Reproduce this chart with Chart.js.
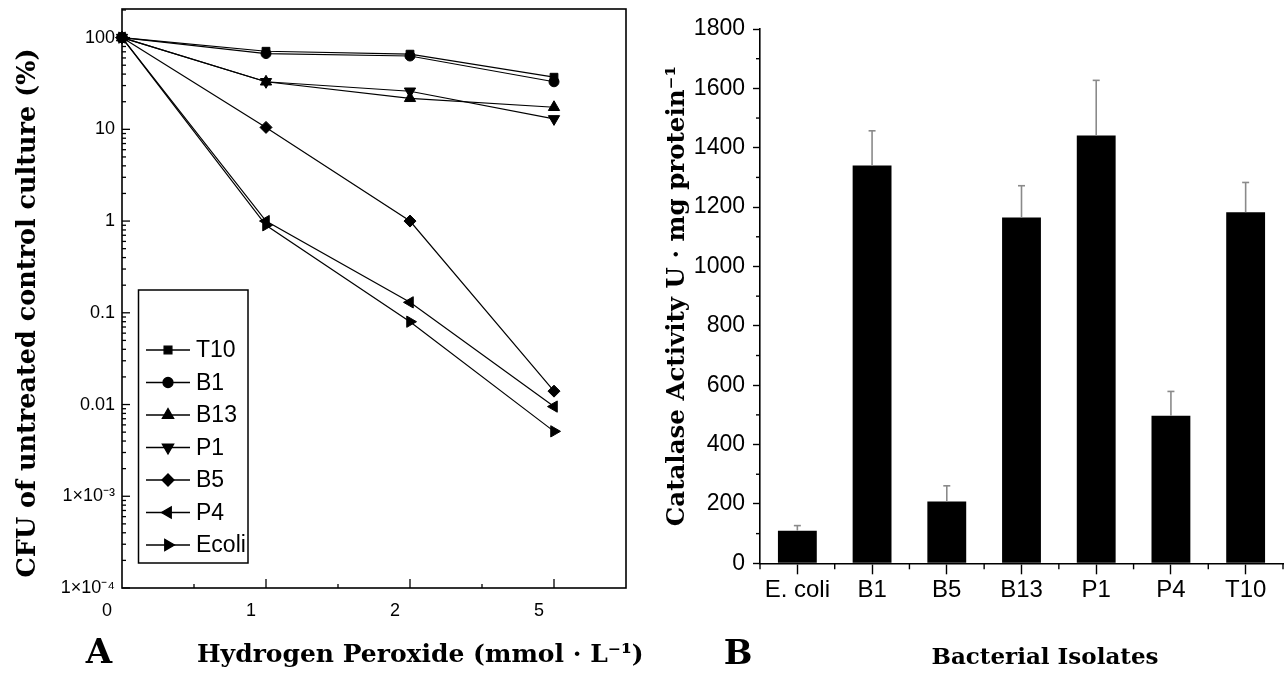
<!DOCTYPE html>
<html><head><meta charset="utf-8">
<script src="https://cdn.jsdelivr.net/npm/chart.js@4.4.1/dist/chart.umd.min.js"></script>
<style>
html,body{margin:0;padding:0;background:#fff;width:1285px;height:675px;overflow:hidden;}
#wa{position:absolute;left:0;top:0;width:700px;height:675px;}
#wb{position:absolute;left:640px;top:0;width:645px;height:675px;}
canvas{display:block;}
</style></head><body>
<div id="wa"><canvas id="ca" width="700" height="675"></canvas></div>
<div id="wb"><canvas id="cb" width="645" height="675"></canvas></div>
<script>
// ---------- DATA ----------
const doseLabels = ['0', '1', '2', '5'];          // H2O2 (mmol/L), evenly spaced categories
const dosePos = [0, 1, 2, 3];
const survT10   = [100, 71, 66, 37];
const survB1    = [100, 67, 63, 33];
const survB13   = [100, 33, 21.8, 17.4];
const survP1    = [100, 33, 26, 13];
const survB5    = [100, 10.5, 1.0, 0.014];
const survP4    = [100, 1.0, 0.13, 0.0095];
const survEcoli = [100, 0.9, 0.08, 0.0051];
const strainNames = ['T10', 'B1', 'B13', 'P1', 'B5', 'P4', 'Ecoli'];
const logTickValues = [1e-4, 1e-3, 0.01, 0.1, 1, 10, 100];
const logTickLabels = ['1\u00d710\u207b\u2074', '1\u00d710\u207b\u00b3', '0.01', '0.1', '1', '10', '100'];

const isolates = ['E. coli', 'B1', 'B5', 'B13', 'P1', 'P4', 'T10'];
const catalase = [110, 1340, 208, 1165, 1441, 497, 1183];
const catalaseErr = [17, 117, 53, 107, 186, 82, 100];

// ---------- STYLE ----------
const SANS = "'Liberation Sans',Arial,sans-serif";
const SERIF = "'DejaVu Serif',serif";
const markerStyle = {
  T10:   {pointStyle: 'rect', radius: 5.5, rotation: 0},
  B1:    {pointStyle: 'circle', radius: 5, rotation: 0},
  B13:   {pointStyle: 'triangle', radius: 6.5, rotation: 0},
  P1:    {pointStyle: 'triangle', radius: 6.5, rotation: 180},
  B5:    {pointStyle: 'rectRot', radius: 6, rotation: 0},
  P4:    {pointStyle: 'triangle', radius: 6.5, rotation: 270},
  Ecoli: {pointStyle: 'triangle', radius: 6.5, rotation: 90}
};
const survSeries = [survT10, survB1, survB13, survP1, survB5, survP4, survEcoli];

function line(ctx, x1, y1, x2, y2) { ctx.beginPath(); ctx.moveTo(x1, y1); ctx.lineTo(x2, y2); ctx.stroke(); }

// ---------- CHART A ----------
const plotA = {
  id: 'plotA',
  beforeDatasetsDraw(chart) {
    const {ctx, chartArea: a, scales: {x, y}} = chart;
    ctx.save();
    ctx.strokeStyle = '#000';
    ctx.lineWidth = 1.6;
    ctx.strokeRect(a.left, a.top, a.right - a.left, a.bottom - a.top);
    ctx.lineWidth = 1.3;
    for (let v = 0.5; v < x.max; v += 0.5) {
      const px = x.getPixelForValue(v);
      const len = Number.isInteger(v) ? 9 : 4;
      line(ctx, px, a.bottom, px, a.bottom - len);
    }
    for (let e = -4; e <= 2; e++) {
      for (let m = 1; m <= 9; m++) {
        const v = m * Math.pow(10, e);
        if (v > y.max) break;
        const py = y.getPixelForValue(v);
        line(ctx, a.left, py, a.left + (m === 1 ? 8 : 4), py);
      }
    }
    ctx.restore();
  },
  afterDraw(chart) {
    const {ctx} = chart;
    ctx.save();
    // legend box
    ctx.strokeStyle = '#000'; ctx.lineWidth = 1.5;
    ctx.strokeRect(138.5, 290, 109.5, 273);
    ctx.font = '23px ' + SANS;
    ctx.textBaseline = 'middle'; ctx.textAlign = 'left';
    chart.data.datasets.forEach((ds, i) => {
      const yy = 350 + i * 32.5;
      ctx.strokeStyle = '#000'; ctx.lineWidth = 1.3;
      line(ctx, 146, yy, 190, yy);
      ctx.fillStyle = '#000';
      Chart.helpers.drawPoint(ctx, {pointStyle: ds.pointStyle, radius: ds.pointRadius, rotation: ds.pointRotation, borderWidth: 1}, 168, yy);
      ctx.fillStyle = '#000';
      ctx.fillText(ds.label, 196, yy + 1);
    });
    // titles
    ctx.fillStyle = '#000';
    ctx.font = 'bold 34px ' + SERIF;
    ctx.textAlign = 'center'; ctx.textBaseline = 'alphabetic';
    ctx.fillText('A', 99, 663);
    ctx.font = 'bold 25px ' + SERIF;
    ctx.textAlign = 'left';
    ctx.fillText('Hydrogen Peroxide (mmol \u00b7 L\u207b\u00b9)', 197, 662);
    ctx.translate(28, 313);
    ctx.rotate(-Math.PI / 2);
    ctx.textAlign = 'center'; ctx.textBaseline = 'middle';
    ctx.font = 'bold 25.5px ' + SERIF;
    ctx.fillText('CFU of untreated control culture (%)', 0, 0);
    ctx.restore();
  }
};

new Chart(document.getElementById('ca'), {
  type: 'line',
  data: {
    datasets: strainNames.map((name, i) => ({
      label: name,
      data: dosePos.map((p, j) => ({x: p, y: survSeries[i][j]})),
      borderColor: '#000',
      backgroundColor: '#000',
      borderWidth: 1.2,
      pointStyle: markerStyle[name].pointStyle,
      pointRadius: markerStyle[name].radius,
      pointRotation: markerStyle[name].rotation,
      pointBorderWidth: 1,
      pointBackgroundColor: '#000',
      pointBorderColor: '#000',
      clip: false,
      tension: 0
    }))
  },
  options: {
    responsive: false,
    animation: false,
    events: [],
    layout: {padding: {left: 0, top: 9, right: 74, bottom: 0}},
    plugins: {legend: {display: false}, tooltip: {enabled: false}},
    scales: {
      x: {
        type: 'linear', min: 0, max: 3.5,
        afterBuildTicks: s => { s.ticks = dosePos.map(v => ({value: v})); },
        afterFit: s => { s.height = 87; s.paddingLeft = 0; s.paddingRight = 0; },
        grid: {display: false, drawTicks: false},
        border: {display: false},
        ticks: {
          callback: (v) => doseLabels[dosePos.indexOf(v)],
          font: {family: SANS, size: 18}, color: '#000', padding: 12, labelOffset: -15,
          maxRotation: 0, autoSkip: false
        }
      },
      y: {
        type: 'logarithmic', min: 1e-4, max: 205,
        afterBuildTicks: s => { s.ticks = logTickValues.map(v => ({value: v})); },
        afterFit: s => { s.width = 122; s.paddingTop = 0; s.paddingBottom = 0; },
        grid: {display: false, drawTicks: false},
        border: {display: false},
        ticks: {
          callback: (v) => logTickLabels[logTickValues.indexOf(v)],
          font: {family: SANS, size: 18}, color: '#000', padding: 7, autoSkip: false
        }
      }
    }
  },
  plugins: [plotA]
});

// ---------- CHART B ----------
const plotB = {
  id: 'plotB',
  afterDatasetsDraw(chart) {
    const {ctx, chartArea: a, scales: {x, y}} = chart;
    const ds = chart.data.datasets[0];
    ctx.save();
    // error bars
    ctx.strokeStyle = '#8a8a8a'; ctx.lineWidth = 1.6;
    ds.data.forEach((v, i) => {
      const px = x.getPixelForValue(i);
      const yb = y.getPixelForValue(v);
      const yt = y.getPixelForValue(v + ds.errors[i]);
      line(ctx, px, yb, px, yt);
      line(ctx, px - 3.5, yt, px + 3.5, yt);
    });
    // minor ticks
    ctx.strokeStyle = '#000'; ctx.lineWidth = 1.4;
    for (let v = 100; v < y.max; v += 200) {
      const py = y.getPixelForValue(v);
      line(ctx, a.left, py, a.left - 4, py);
    }
    const n = ds.data.length;
    for (let i = 0; i <= n; i++) {
      let px;
      if (i === 0) px = a.left; else if (i === n) px = a.right;
      else px = (x.getPixelForValue(i - 1) + x.getPixelForValue(i)) / 2;
      line(ctx, px, a.bottom, px, a.bottom + 6);
    }
    ctx.restore();
  },
  afterDraw(chart) {
    const {ctx} = chart;
    ctx.save();
    ctx.fillStyle = '#000';
    ctx.font = 'bold 34px ' + SERIF;
    ctx.textAlign = 'center'; ctx.textBaseline = 'alphabetic';
    ctx.fillText('B', 98, 664);
    ctx.font = 'bold 23px ' + SERIF;
    ctx.fillText('Bacterial Isolates', 405, 664);
    ctx.translate(38, 296);
    ctx.rotate(-Math.PI / 2);
    ctx.textBaseline = 'middle';
    ctx.font = 'bold 24.5px ' + SERIF;
    ctx.fillText('Catalase Activity U \u00b7 mg protein\u207b\u00b9', 0, 0);
    ctx.restore();
  }
};

new Chart(document.getElementById('cb'), {
  type: 'bar',
  data: {
    labels: isolates,
    datasets: [{
      label: 'Catalase activity',
      data: catalase,
      errors: catalaseErr,
      backgroundColor: '#000',
      borderWidth: 0,
      barPercentage: 0.52,
      categoryPercentage: 1.0
    }]
  },
  options: {
    responsive: false,
    animation: false,
    events: [],
    layout: {padding: {left: 0, top: 29, right: 2, bottom: 0}},
    plugins: {legend: {display: false}, tooltip: {enabled: false}},
    scales: {
      x: {
        type: 'category',
        afterFit: s => { s.height = 111.7; s.paddingLeft = 0; s.paddingRight = 0; },
        grid: {display: true, drawOnChartArea: false, offset: false, tickLength: 11, tickWidth: 1.4, tickColor: '#000'},
        border: {display: true, color: '#000', width: 1.6},
        ticks: {font: {family: SANS, size: 24}, color: '#000', padding: 2, maxRotation: 0, autoSkip: false}
      },
      y: {
        min: 0, max: 1800,
        afterFit: s => { s.width = 120; s.paddingTop = 0; s.paddingBottom = 0; },
        grid: {display: true, drawOnChartArea: false, tickLength: 7, tickWidth: 1.4, tickColor: '#000'},
        border: {display: true, color: '#000', width: 1.6},
        ticks: {stepSize: 200, callback: v => String(v), font: {family: SANS, size: 23}, color: '#000', padding: 8}
      }
    }
  },
  plugins: [plotB]
});
</script>
</body></html>
